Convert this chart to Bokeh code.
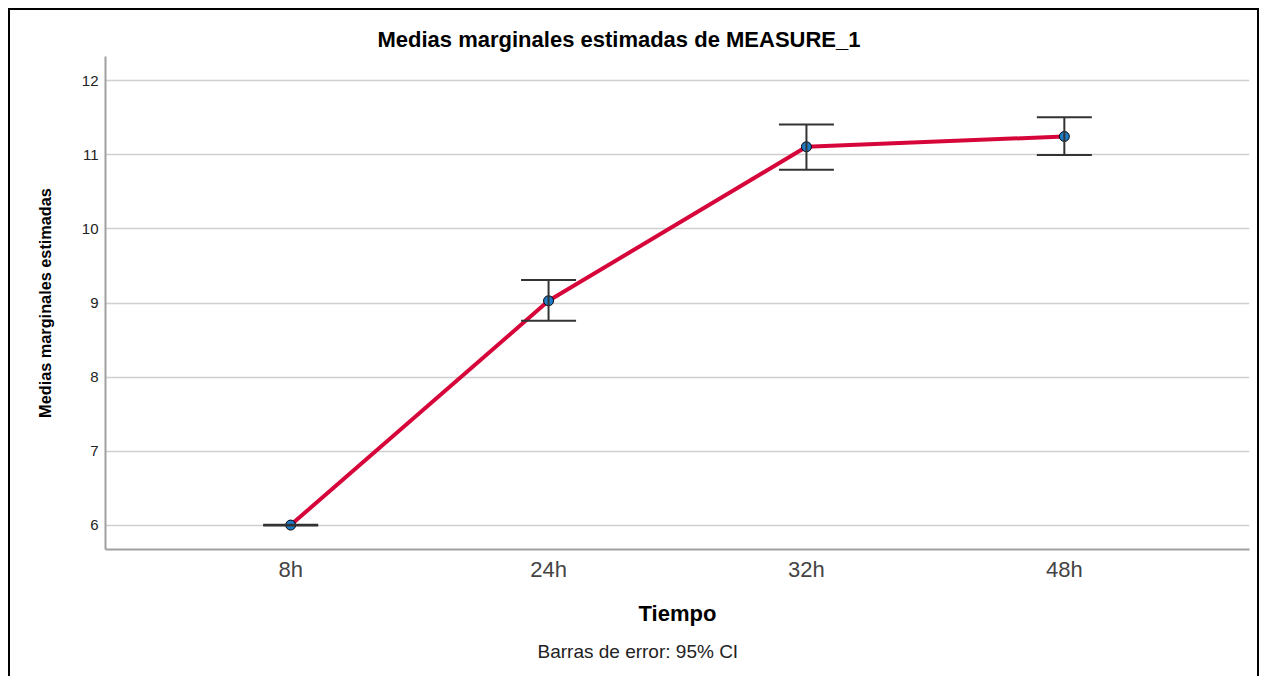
from bokeh.plotting import figure
from bokeh.models import (ColumnDataSource, FactorRange, Whisker, TeeHead, Title,
                          FixedTicker)
from bokeh.embed import file_html
from bokeh.resources import INLINE

# ---- data ----
tiempo = ["8h", "24h", "32h", "48h"]
medias = [6.00, 9.03, 11.11, 11.25]
ci_lower = [5.995, 8.76, 10.80, 11.00]
ci_upper = [6.005, 9.31, 11.41, 11.51]
y_ticks = [6, 7, 8, 9, 10, 11, 12]

FONT = "Liberation Sans"

src = ColumnDataSource(data=dict(x=tiempo, y=medias, lower=ci_lower, upper=ci_upper))

p = figure(
    width=1251, height=668,
    x_range=FactorRange(*tiempo, range_padding=0.218, range_padding_units="absolute"),
    y_range=(5.67, 12.33),
    output_backend="svg", toolbar_location=None,
    min_border_left=95, min_border_right=12, min_border_top=46, min_border_bottom=129,
)
p.styles = {"border-top": "2px solid black", "border-left": "2px solid black",
            "border-right": "2px solid black", "margin-left": "8px", "margin-top": "8px"}

p.outline_line_color = None
p.background_fill_color = "white"
p.border_fill_color = "white"

# title
p.title.text = "Medias marginales estimadas de MEASURE_1"
p.title.text_font = FONT
p.title.text_font_size = "22px"
p.title.text_font_style = "bold"
p.title.align = "left"
p.title.offset = 272
p.title.text_color = "black"

# grid
p.xgrid.grid_line_color = None
p.ygrid.grid_line_color = "#cfcfcf"
p.ygrid.grid_line_width = 1.5
p.yaxis.ticker = FixedTicker(ticks=y_ticks)

# axes
for ax in (p.xaxis[0], p.yaxis[0]):
    ax.axis_line_color = "#a0a0a0"
    ax.axis_line_width = 2
    ax.major_tick_line_color = None
    ax.minor_tick_line_color = None
    ax.major_tick_out = 0
    ax.major_tick_in = 0
    ax.major_label_text_font = FONT

p.yaxis.major_label_text_font_size = "15px"
p.yaxis.major_label_text_color = "#222222"
p.yaxis.major_label_standoff = 7
p.yaxis.axis_label = "Medias marginales estimadas"
p.yaxis.axis_label_text_font = FONT
p.yaxis.axis_label_text_font_size = "16.3px"
p.yaxis.axis_label_text_font_style = "bold"
p.yaxis.axis_label_text_color = "black"
p.yaxis.axis_label_standoff = 25

p.xaxis.major_label_text_font_size = "22px"
p.xaxis.major_label_text_color = "#444444"
p.xaxis.major_label_standoff = 7
p.xaxis.axis_label = "Tiempo"
p.xaxis.axis_label_text_font = FONT
p.xaxis.axis_label_text_font_size = "22px"
p.xaxis.axis_label_text_font_style = "bold"
p.xaxis.axis_label_text_color = "black"
p.xaxis.axis_label_standoff = 16

# footnote
foot = Title(text="Barras de error: 95% CI", align="left", offset=432,
             text_font=FONT, text_font_size="19px", text_font_style="normal",
             text_color="#222222", standoff=21)
p.add_layout(foot, "below")

# error bars
wh = Whisker(base="x", upper="upper", lower="lower", source=src,
             line_color="#333333", line_width=2, level="glyph",
             upper_head=TeeHead(size=55, line_color="#333333", line_width=2),
             lower_head=TeeHead(size=55, line_color="#333333", line_width=2))
p.add_layout(wh)

# line + markers
p.line(x="x", y="y", source=src, line_color="#d6063a", line_width=4)
p.scatter(x="x", y="y", source=src, size=10, fill_color="#1f7bc6",
          line_color="black", line_width=1)

open("out.html", "w").write(file_html(p, INLINE))
